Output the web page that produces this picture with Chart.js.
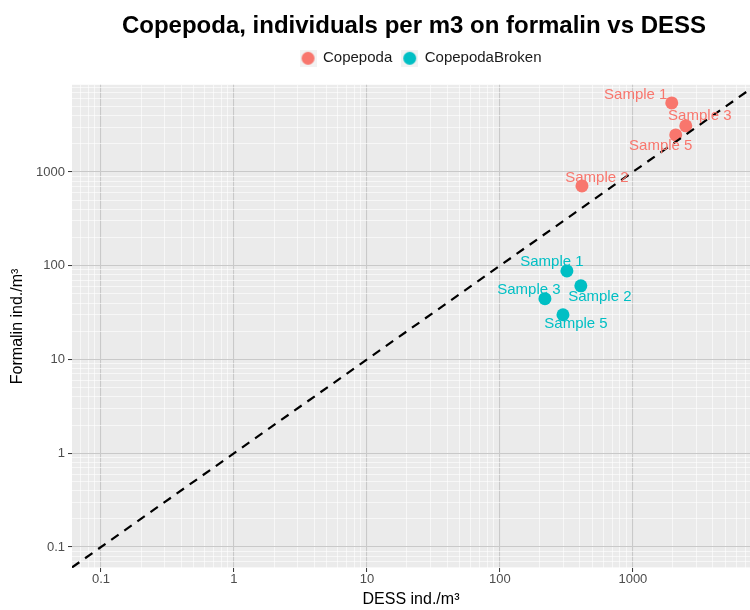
<!DOCTYPE html>
<html>
<head>
<meta charset="utf-8">
<script src="https://cdn.jsdelivr.net/npm/chart.js@4"></script>
<style>
  html, body { margin: 0; padding: 0; background: #fff; }
  #wrap { width: 750px; height: 610px; }
</style>
</head>
<body>
<div id="wrap"><canvas id="chart" width="750" height="610"></canvas></div>
<script>
// sample names per point
const sampleNames = ["Sample 1", "Sample 2", "Sample 3", "Sample 5"];

// DESS (x) and formalin (y) counts, ind./m3
const copepodaDess = [1960, 414, 2500, 2100];
const copepodaFormalin = [5450, 709, 3100, 2480];
const brokenDess = [319, 406, 218, 298];
const brokenFormalin = [88, 61, 44.5, 30];

// axis limits and labelled ticks
const xLimits = [0.0605, 7600];
const yLimits = [0.0597, 8500];
const tickLabels = [0.1, 1, 10, 100, 1000];

// label nudges (px) for the text next to each point
const copepodaNudge = [[-36, -8], [15, -8], [14, -10], [-15, 11]];
const brokenNudge = [[-15, -9], [19, 11], [-16, -9], [13, 9]];

const RED = "#F8766D";
const CYAN = "#00BFC4";
const FONT = "'Liberation Sans', Arial, sans-serif";

function toPoints(xs, ys) {
  return xs.map((x, i) => ({ x: x, y: ys[i] }));
}

function isDecade(v) {
  const l = Math.log10(v);
  return Math.abs(l - Math.round(l)) < 1e-9;
}

// all 1..9 multiples inside the range, decades become major lines
function logTicks(scale) {
  const ticks = [];
  for (let e = -2; e <= 4; e++) {
    for (let m = 1; m <= 9; m++) {
      const v = m * Math.pow(10, e);
      if (v >= scale.min && v <= scale.max) ticks.push({ value: v, major: m === 1 });
    }
  }
  scale.ticks = ticks;
}

function tickText(v) {
  if (!isDecade(v)) return "";
  const r = tickLabels.find(t => Math.abs(t - v) / t < 1e-9);
  return r === undefined ? "" : String(r);
}

// legend key like ggplot: grey square with a dot
function legendKey(color) {
  const c = document.createElement("canvas");
  c.width = 17; c.height = 17;
  const g = c.getContext("2d");
  g.fillStyle = "#F2F2F2";
  g.fillRect(0, 0, 17, 17);
  g.fillStyle = color;
  g.beginPath();
  g.arc(8.5, 8.5, 6.5, 0, Math.PI * 2);
  g.fill();
  return c;
}
const keys = [legendKey(RED), legendKey(CYAN)];

const panelBg = {
  id: "panelBg",
  beforeLayout(chart) {
    // extra room between the legend and the panel
    const lg = chart.legend;
    if (lg && !lg._padded) {
      const fit = lg.fit.bind(lg);
      lg.fit = function () { fit(); this.height += 9; };
      lg._padded = true;
    }
  },
  afterLayout(chart) {
    // centre title and legend over the panel, not the canvas
    if (chart.titleBlock) { chart.titleBlock.left += 39; chart.titleBlock.right += 39; }
    if (chart.legend) { chart.legend.left += 46; chart.legend.right += 46; }
  },
  beforeDraw(chart) {
    const a = chart.chartArea;
    const ctx = chart.ctx;
    ctx.save();
    ctx.fillStyle = "#EBEBEB";
    ctx.fillRect(a.left, a.top, a.right - a.left, a.bottom - a.top);
    ctx.restore();
  }
};

const pointText = {
  id: "pointText",
  afterDraw(chart) {
    const ctx = chart.ctx;
    ctx.save();
    ctx.font = "15px " + FONT;
    ctx.textAlign = "center";
    ctx.textBaseline = "middle";
    [[0, copepodaNudge, RED], [1, brokenNudge, CYAN]].forEach(([di, nudge, col]) => {
      const meta = chart.getDatasetMeta(di);
      ctx.fillStyle = col;
      meta.data.forEach((pt, i) => {
        ctx.fillText(sampleNames[i], pt.x + nudge[i][0], pt.y + nudge[i][1]);
      });
    });
    ctx.restore();
  }
};

const gridColor = c => (c.tick && isDecade(c.tick.value)) ? "#C9C9C9" : "#FFFFFF";
const gridWidth = c => (c.tick && isDecade(c.tick.value)) ? 1.1 : 0.6;
const tickColor = c => (c.tick && tickText(c.tick.value) !== "") ? "#333333" : "rgba(0,0,0,0)";

new Chart(document.getElementById("chart"), {
  type: "scatter",
  data: {
    datasets: [
      {
        label: "Copepoda",
        data: toPoints(copepodaDess, copepodaFormalin),
        backgroundColor: RED,
        borderWidth: 0,
        pointRadius: 6.5,
        pointHoverRadius: 6.5,
        order: 1
      },
      {
        label: "CopepodaBroken",
        data: toPoints(brokenDess, brokenFormalin),
        backgroundColor: CYAN,
        borderWidth: 0,
        pointRadius: 6.5,
        pointHoverRadius: 6.5,
        order: 1
      },
      {
        // 1:1 line across the whole panel
        type: "line",
        label: "1:1",
        data: [{ x: xLimits[0], y: xLimits[0] }, { x: yLimits[1], y: yLimits[1] }],
        borderColor: "#000000",
        borderWidth: 2.2,
        borderDash: [9, 7],
        pointRadius: 0,
        fill: false,
        order: 0
      }
    ]
  },
  options: {
    responsive: false,
    animation: false,
    layout: { autoPadding: false, padding: 0 },
    plugins: {
      title: {
        display: true,
        text: "Copepoda, individuals per m3 on formalin vs DESS",
        color: "#000000",
        font: { family: FONT, size: 24, weight: "bold" },
        padding: { top: 12, bottom: 0 }
      },
      legend: {
        display: true,
        labels: {
          usePointStyle: true,
          boxWidth: 15,
          boxHeight: 15,
          color: "#1A1A1A",
          font: { family: FONT, size: 15 },
          padding: 10,
          generateLabels: chart => chart.data.datasets.slice(0, 2).map((ds, i) => ({
            text: ds.label,
            fillStyle: ds.backgroundColor,
            strokeStyle: ds.backgroundColor,
            lineWidth: 0,
            pointStyle: keys[i],
            fontColor: "#1A1A1A",
            hidden: false,
            datasetIndex: i
          }))
        }
      },
      tooltip: { enabled: false }
    },
    scales: {
      x: {
        type: "logarithmic",
        min: xLimits[0],
        max: xLimits[1],
        afterBuildTicks: logTicks,
        afterFit: s => { s.height = 42; },
        border: { display: false },
        grid: { color: gridColor, lineWidth: gridWidth, tickLength: 4, tickColor: tickColor, tickWidth: 1 },
        ticks: {
          autoSkip: false,
          maxRotation: 0,
          callback: v => tickText(v),
          color: "#4D4D4D",
          font: { family: FONT, size: 13 },
          padding: 0
        },
        title: {
          display: true,
          text: "DESS ind./m³",
          color: "#000000",
          font: { family: FONT, size: 16 },
          padding: { top: 2, bottom: 1 }
        }
      },
      y: {
        type: "logarithmic",
        min: yLimits[0],
        max: yLimits[1],
        afterBuildTicks: logTicks,
        afterFit: s => { s.width = 72; },
        border: { display: false },
        grid: { color: gridColor, lineWidth: gridWidth, tickLength: 4, tickColor: tickColor, tickWidth: 1 },
        ticks: {
          autoSkip: false,
          callback: v => tickText(v),
          color: "#4D4D4D",
          font: { family: FONT, size: 13 },
          padding: 3
        },
        title: {
          display: true,
          text: "Formalin ind./m³",
          color: "#000000",
          font: { family: FONT, size: 16 },
          padding: { top: 8, bottom: 2 }
        }
      }
    }
  },
  plugins: [panelBg, pointText]
});
</script>
</body>
</html>
